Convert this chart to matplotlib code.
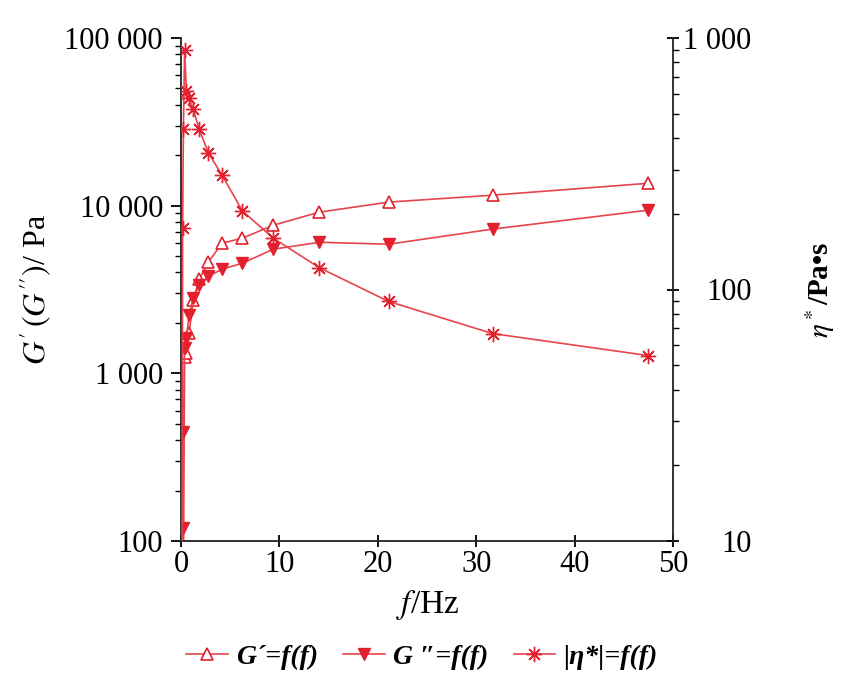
import numpy as np
import matplotlib
matplotlib.use('Agg')
import matplotlib.pyplot as plt
from matplotlib.ticker import FixedLocator, NullFormatter, LogLocator

plt.rcParams['font.family'] = ['Liberation Serif', 'DejaVu Serif']
plt.rcParams['mathtext.fontset'] = 'stix'

# frequency sweep, Hz
freq = [0.072, 0.108, 0.163, 0.244, 0.366, 0.549, 0.823, 1.235, 1.85, 2.78,
        4.17, 6.25, 9.38, 14.07, 21.11, 31.67, 47.5]
# storage modulus G', Pa (first points below the axis range)
g_storage = [np.nan, np.nan, np.nan, 60, 1250, 1330, 1730, 2730, 3640, 4600,
             5970, 6400, 7650, 9150, 10500, 11550, 13600]
# loss modulus G'', Pa
g_loss = [np.nan, 60, 119, 445, 1410, 1620, 2220, 2800, 3350, 3790,
          4180, 4540, 5500, 6050, 5890, 7250, 9400]
# complex viscosity |eta*|, Pa s
eta = [np.nan, 6, 175, 434, 896, 615, 576, 521, 434, 349,
       285, 205, 160, 122, 89.6, 66.8, 54.6]

left_ticks = [100, 1000, 10000, 100000]
left_labels = ['100', '1 000', '10 000', '100 000']
right_ticks = [10, 100, 1000]
right_labels = ['10', '100', '1 000']
x_ticks = [0, 10, 20, 30, 40, 50]

line_c = '#e8444e'
mark_c = '#e3202d'

fig = plt.figure(figsize=(8.45, 6.92), dpi=100)
ax = fig.add_axes([181/845, 1-541/692, (673-181)/845, (541-38)/692])
ax2 = ax.twinx()

l1, = ax.plot(freq, g_storage, color=line_c, lw=1.2, marker='^', ms=8,
              mfc='white', mec=mark_c, mew=1.2, label='G\u00b4=f(f)')
l2, = ax.plot(freq, g_loss, color=line_c, lw=1.2, marker='v', ms=8,
              mfc=mark_c, mec=mark_c, label='G \u2033=f(f)')
l3, = ax2.plot(freq, eta, color=line_c, lw=1.2, marker=(8, 2, 0), ms=11,
               mec=mark_c, mew=1.0, label='|\u03b7*|=f(f)')

ax.set_xlim(0, 50)
ax.set_xticks(x_ticks)
ax.set_yscale('log')
ax.set_ylim(100, 100000)
ax.yaxis.set_major_locator(FixedLocator(left_ticks))
ax.set_yticklabels(left_labels)
ax.yaxis.set_minor_locator(LogLocator(base=10, subs=np.arange(2, 10)))
ax.yaxis.set_minor_formatter(NullFormatter())

ax2.set_yscale('log')
ax2.set_ylim(10, 1000)
ax2.yaxis.set_major_locator(FixedLocator(right_ticks))
ax2.set_yticklabels(right_labels)
ax2.yaxis.set_minor_locator(LogLocator(base=10, subs=np.arange(2, 10)))
ax2.yaxis.set_minor_formatter(NullFormatter())

for a in (ax, ax2):
    a.spines['top'].set_visible(False)
    for s in a.spines.values():
        s.set_linewidth(1.3)
        s.set_color('#222222')
ax.spines['right'].set_visible(False)
ax2.spines['left'].set_visible(False)
ax2.spines['bottom'].set_visible(False)

ax.tick_params(axis='x', direction='inout', length=9, width=1.3, labelsize=22, pad=2)
ax.tick_params(axis='y', which='major', direction='out', length=7, width=1.3, labelsize=22, pad=6)
ax.tick_params(axis='y', which='minor', direction='out', length=4, width=1.0)
ax2.tick_params(axis='y', which='major', direction='inout', length=9, width=1.3, labelsize=22, pad=52)
ax2.tick_params(axis='y', which='minor', direction='out', length=4, width=1.0)
for lbl in ax2.get_yticklabels():
    lbl.set_horizontalalignment('right')

fig.text(428/845, 1-605/692, '$f$/Hz', fontsize=24, ha='center', va='center')
fig.text(36/845, 1-290/692, "$G'\\,(G'')$/ Pa", fontsize=23, rotation=90,
         ha='center', va='center')
fig.text(820/845, 1-290/692, '$\\eta^*$/Pa\u2022s', fontsize=21, rotation=90,
         ha='center', va='center', fontweight='bold')

fig.legend(handles=[l1, l2, l3], loc='center', bbox_to_anchor=(422/845, 1-657/692),
           ncol=3, frameon=False, handlelength=1.5, columnspacing=0.9,
           handletextpad=0.3, prop={'family': 'Liberation Serif', 'size': 20,
                                    'style': 'italic', 'weight': 'bold'})

fig.savefig('out.png', dpi=100)
